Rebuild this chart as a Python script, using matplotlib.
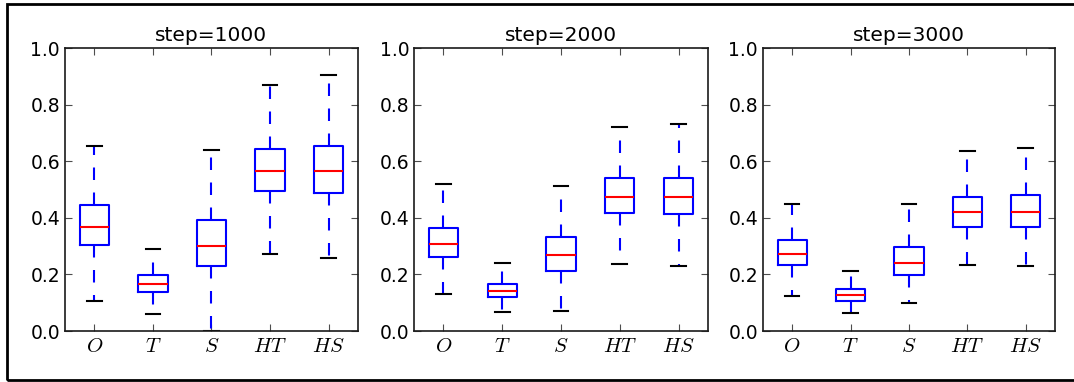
import matplotlib
matplotlib.use("Agg")
import matplotlib.pyplot as plt
from matplotlib.patches import Rectangle

plt.rcParams["mathtext.fontset"] = "cm"
plt.rcParams["font.family"] = "DejaVu Sans"

labels = [r"$O$", r"$T$", r"$S$", r"$HT$", r"$HS$"]
titles = ["step=1000", "step=2000", "step=3000"]

# whisker low, Q1, median, Q3, whisker high  (per panel, per category)
whislo = [
    [0.107, 0.059, 0.000, 0.272, 0.259],
    [0.130, 0.066, 0.071, 0.237, 0.230],
    [0.125, 0.063, 0.099, 0.235, 0.229],
]
q1 = [
    [0.304, 0.139, 0.231, 0.494, 0.487],
    [0.261, 0.119, 0.212, 0.416, 0.414],
    [0.232, 0.107, 0.197, 0.369, 0.369],
]
med = [
    [0.369, 0.165, 0.302, 0.566, 0.566],
    [0.307, 0.140, 0.267, 0.473, 0.473],
    [0.272, 0.126, 0.242, 0.420, 0.421],
]
q3 = [
    [0.446, 0.199, 0.393, 0.644, 0.654],
    [0.363, 0.167, 0.333, 0.539, 0.540],
    [0.320, 0.150, 0.298, 0.475, 0.480],
]
whishi = [
    [0.654, 0.291, 0.639, 0.869, 0.904],
    [0.519, 0.241, 0.512, 0.722, 0.733],
    [0.448, 0.212, 0.448, 0.636, 0.645],
]

fig = plt.figure(figsize=(10.74, 3.82), dpi=100)
lefts = [0.0605, 0.3855, 0.7104]
widths = [0.2728, 0.2737, 0.2719]

for p in range(3):
    ax = fig.add_axes([lefts[p], 0.1335, widths[p], 0.7408])
    stats = []
    for i in range(5):
        stats.append({
            "whislo": whislo[p][i], "q1": q1[p][i], "med": med[p][i],
            "q3": q3[p][i], "whishi": whishi[p][i], "fliers": [],
        })
    ax.bxp(
        stats, widths=0.5, showfliers=False,
        boxprops=dict(color="blue", linewidth=1.5),
        whiskerprops=dict(color="blue", linestyle=(0, (6, 6)), linewidth=1.5),
        capprops=dict(color="black", linewidth=1.5),
        medianprops=dict(color="red", linewidth=1.5),
    )
    ax.set_xlim(0.5, 5.5)
    ax.set_ylim(0, 1.0)
    ax.set_yticks([0.0, 0.2, 0.4, 0.6, 0.8, 1.0])
    ax.set_xticks(range(1, 6))
    ax.set_xticklabels(labels, fontsize=15)
    ax.tick_params(axis="y", labelsize=13.5)
    ax.tick_params(direction="in", top=True, right=True, length=5, color="0.3")
    for s in ax.spines.values():
        s.set_linewidth(1.2)
        s.set_color("0.1")
    ax.set_title(titles[p], fontsize=14.5, pad=5)

# outer frame (right edge cropped off in the original)
fig.patches.append(Rectangle((7 / 1074, 2 / 382), 1.02, 376 / 382,
                             transform=fig.transFigure, fill=False,
                             edgecolor="black", linewidth=2))

fig.savefig("out.png", dpi=100, facecolor="white")
